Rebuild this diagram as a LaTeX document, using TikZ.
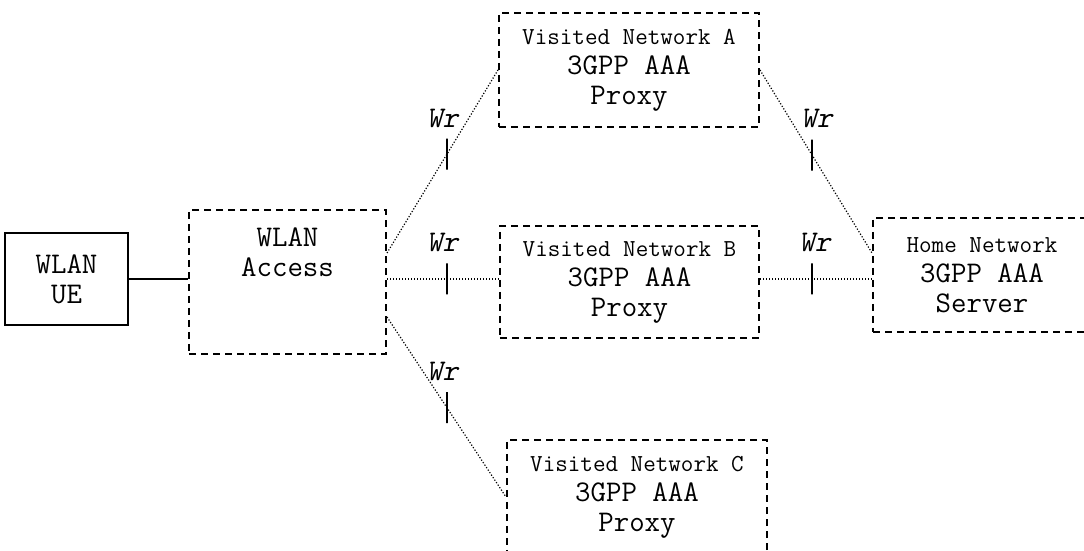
\documentclass[tikz,border=0pt]{standalone}
\usepackage{fontspec}
\usetikzlibrary{positioning}
\newfontfamily\wrfamily{lmmonoslant10-regular.otf}
\newcommand{\bigfont}{\ttfamily\fontsize{15}{15}\selectfont}
\newcommand{\smallfont}{\ttfamily\fontsize{12.2}{14}\selectfont}
\newcommand{\wrfont}{\wrfamily\fontsize{15}{15}\selectfont}
\tikzset{x=0.5pt, y=-0.5pt, % one unit is one pixel of the layout
netbox/.style={draw, dash pattern=on 3.5pt off 2.5pt, line width=1pt, align=center, font=\bigfont, inner sep=0pt}, % dashed network boxes
uebox/.style={draw, line width=1pt, align=center, font=\bigfont}, % the terminal
wrlink/.style={line width=0.6pt, dash pattern=on 0.6pt off 0.9pt}, % Wr reference points
tick/.style={draw, solid, line width=1pt, minimum width=0pt, minimum height=15.5pt, inner sep=0pt},
wr/.style={font=\wrfont, inner sep=0pt},
}

\begin{document}
\begin{tikzpicture}
\clip (0,0) rectangle (1084,551);
\node[uebox, minimum width=61.5pt, minimum height=46pt] (ue) at (66.5,279) {WLAN\\UE};
\node[netbox, minimum width=98.5pt, minimum height=72pt] (acc) at (287.5,282) {};
\node[align=center, font=\bigfont] (acctxt) at (287.5,252) {WLAN\\Access};
\node[netbox, minimum width=130pt, minimum height=57pt] (va) at (629,70) {{\smallfont Visited Network A}\\3GPP AAA\\Proxy};
\node[netbox, minimum width=129.5pt, minimum height=56pt] (vb) at (629.5,282) {{\smallfont Visited Network B}\\3GPP AAA\\Proxy};
\node[netbox, minimum width=130pt, minimum height=57pt] (vc) at (637,497) {{\smallfont Visited Network C}\\3GPP AAA\\Proxy};
\node[netbox, minimum width=109pt, minimum height=57pt] (home) at (982,275) {{\smallfont Home Network}\\3GPP AAA\\Server};

\draw[line width=1pt] (ue.east) -- (ue.east -| acc.west);
\draw[wrlink] ([yshift=14.5pt]acc.east) -- node[tick, pos=.54] (t1) {} (va.west);
\draw[wrlink] ([yshift=1.5pt]acc.east) -- node[tick, pos=.535] (t2) {} ([yshift=1.5pt]vb.west);
\draw[wrlink] ([yshift=-17.5pt]acc.east) -- node[tick, pos=.504] (t3) {} (vc.west);
\draw[wrlink] (va.east) -- node[tick, pos=.465] (t4) {} ([yshift=11pt]home.west);
\draw[wrlink] ([yshift=1.5pt]vb.east) -- node[tick, pos=.465] (t5) {} ([yshift=-2pt]home.west);

\node[wr, above=5pt of t1, xshift=-2pt] (w1) {Wr};
\node[wr, above=5pt of t2, xshift=-2pt] (w2) {Wr};
\node[wr, above=5pt of t3, xshift=-2pt] (w3) {Wr};
\node[wr, above=5pt of t4, xshift=2.5pt] (w4) {Wr};
\node[wr, above=5pt of t5, xshift=1.5pt] (w5) {Wr};
\end{tikzpicture}
\end{document}
